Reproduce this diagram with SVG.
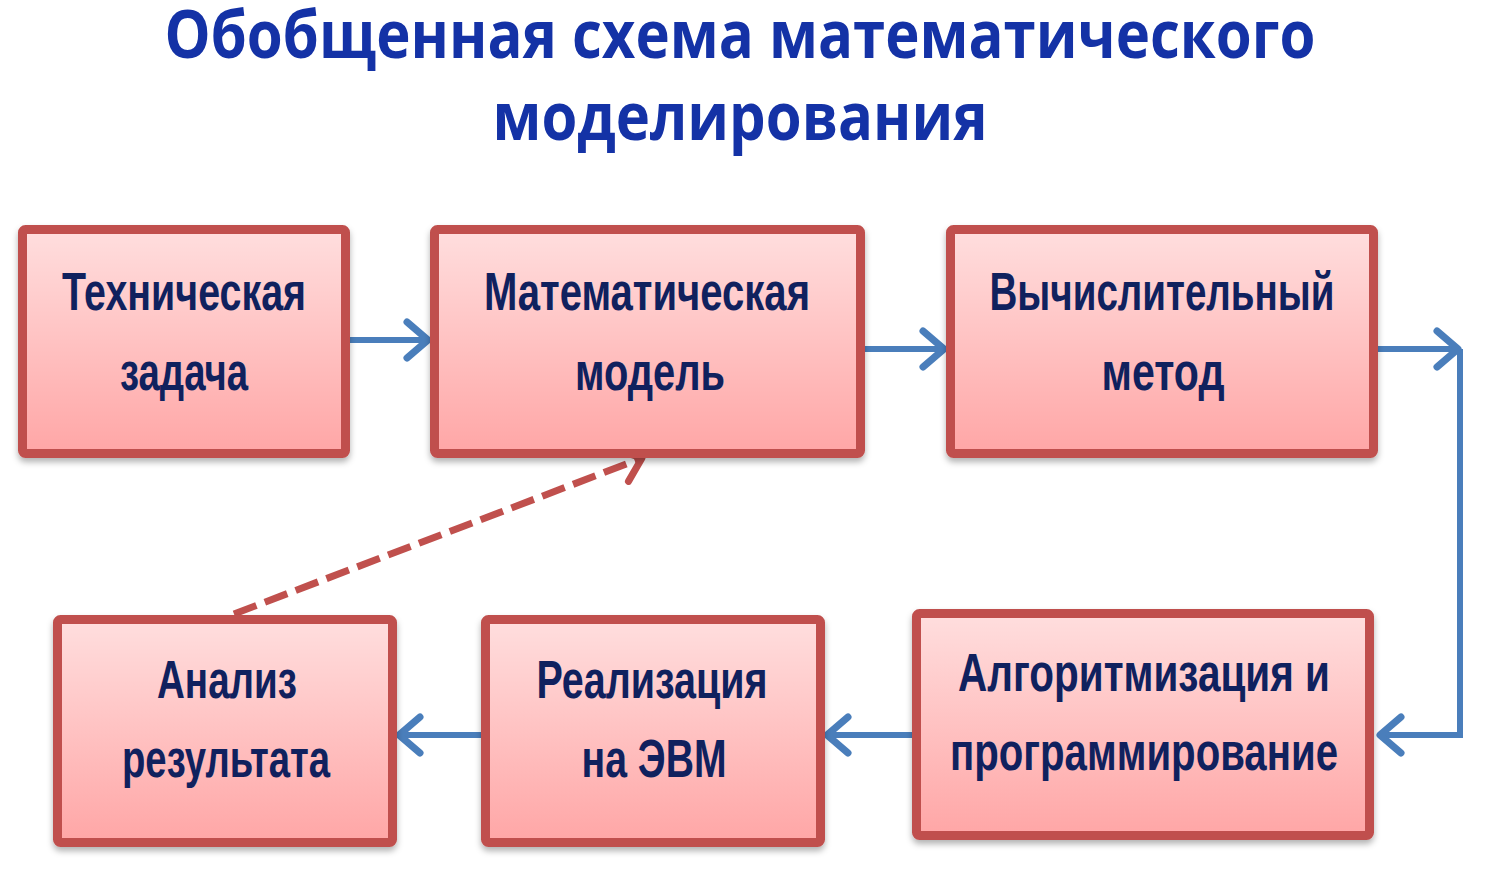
<svg xmlns="http://www.w3.org/2000/svg" width="1488" height="878" viewBox="0 0 1488 878">
<style>
.title{font-family:"Open Sans","Liberation Sans",sans-serif;font-weight:bold;font-size:66px;fill:#1432A6;text-anchor:middle}
.box{fill:url(#g);stroke:#C0504D;stroke-width:9;filter:url(#sh)}
.lbl{font-family:"Liberation Sans","DejaVu Sans",sans-serif;font-weight:bold;font-size:53px;fill:#10215E;text-anchor:middle}
.conn{fill:none;stroke:#4A7EBB;stroke-width:6}
.dash{fill:none;stroke:#C0504D;stroke-width:7;stroke-dasharray:24 9}
</style>
<defs>
<linearGradient id="g" x1="0" y1="0" x2="0" y2="1">
<stop offset="0" stop-color="#FFDEDE"/>
<stop offset="1" stop-color="#FFA6A6"/>
</linearGradient>
<filter id="sh" x="-10%" y="-10%" width="120%" height="130%">
<feDropShadow dx="0" dy="4" stdDeviation="3" flood-color="#000" flood-opacity="0.3"/>
</filter>
<marker id="ab" markerUnits="userSpaceOnUse" markerWidth="34" markerHeight="48" viewBox="-28 -24 34 48" refX="0" refY="0" orient="auto">
<path d="M-21,-18 L0,0 L-21,18" fill="none" stroke="#4A7EBB" stroke-width="7" stroke-linecap="round" stroke-linejoin="round"/>
</marker>
<marker id="ar" markerUnits="userSpaceOnUse" markerWidth="34" markerHeight="48" viewBox="-28 -24 34 48" refX="0" refY="0" orient="auto">
<path d="M-21,-17 L0,0 L-21,17" fill="none" stroke="#C0504D" stroke-width="7" stroke-linecap="round" stroke-linejoin="round"/>
</marker>
</defs>
<rect width="1488" height="878" fill="#FFFFFF"/>
<g id="title">
<text class="title" x="740" y="58" textLength="1151" lengthAdjust="spacingAndGlyphs">Обобщенная схема математического</text>
<text class="title" x="740" y="140" textLength="495" lengthAdjust="spacingAndGlyphs">моделирования</text>
</g>
<g id="connectors">
<line class="conn" x1="350" y1="340" x2="428" y2="340" marker-end="url(#ab)"/>
<line class="conn" x1="865" y1="349" x2="944" y2="349" marker-end="url(#ab)"/>
<line class="conn" x1="1378" y1="349" x2="1458" y2="349" marker-end="url(#ab)"/>
<path class="conn" d="M1460,349 L1460,735 L1380,735" marker-end="url(#ab)"/>
<line class="conn" x1="912" y1="735" x2="827" y2="735" marker-end="url(#ab)"/>
<line class="conn" x1="481" y1="735" x2="399" y2="735" marker-end="url(#ab)"/>
<line class="dash" x1="234" y1="614" x2="642" y2="458" marker-end="url(#ar)"/>
</g>
<g id="n1">
<rect class="box" x="22.5" y="229.5" width="323" height="224" rx="3"/>
<text class="lbl" x="184" y="310" textLength="244" lengthAdjust="spacingAndGlyphs">Техническая</text>
<text class="lbl" x="184" y="390" textLength="128" lengthAdjust="spacingAndGlyphs">задача</text>
</g>
<g id="n2">
<rect class="box" x="434.5" y="229.5" width="426" height="224" rx="3"/>
<text class="lbl" x="647" y="310" textLength="326" lengthAdjust="spacingAndGlyphs">Математическая</text>
<text class="lbl" x="650" y="390" textLength="150" lengthAdjust="spacingAndGlyphs">модель</text>
</g>
<g id="n3">
<rect class="box" x="950.5" y="229.5" width="423" height="224" rx="3"/>
<text class="lbl" x="1162" y="310" textLength="345" lengthAdjust="spacingAndGlyphs">Вычислительный</text>
<text class="lbl" x="1163" y="390" textLength="123" lengthAdjust="spacingAndGlyphs">метод</text>
</g>
<g id="n4">
<rect class="box" x="57.5" y="619.5" width="335" height="223" rx="3"/>
<text class="lbl" x="227" y="698" textLength="140" lengthAdjust="spacingAndGlyphs">Анализ</text>
<text class="lbl" x="226" y="777" textLength="208" lengthAdjust="spacingAndGlyphs">результата</text>
</g>
<g id="n5">
<rect class="box" x="485.5" y="619.5" width="335" height="223" rx="3"/>
<text class="lbl" x="652" y="698" textLength="231" lengthAdjust="spacingAndGlyphs">Реализация</text>
<text class="lbl" x="654" y="777" textLength="145" lengthAdjust="spacingAndGlyphs">на ЭВМ</text>
</g>
<g id="n6">
<rect class="box" x="916.5" y="613.5" width="453" height="222" rx="3"/>
<text class="lbl" x="1144" y="691" textLength="372" lengthAdjust="spacingAndGlyphs">Алгоритмизация и</text>
<text class="lbl" x="1144" y="770" textLength="388" lengthAdjust="spacingAndGlyphs">программирование</text>
</g>
</svg>
